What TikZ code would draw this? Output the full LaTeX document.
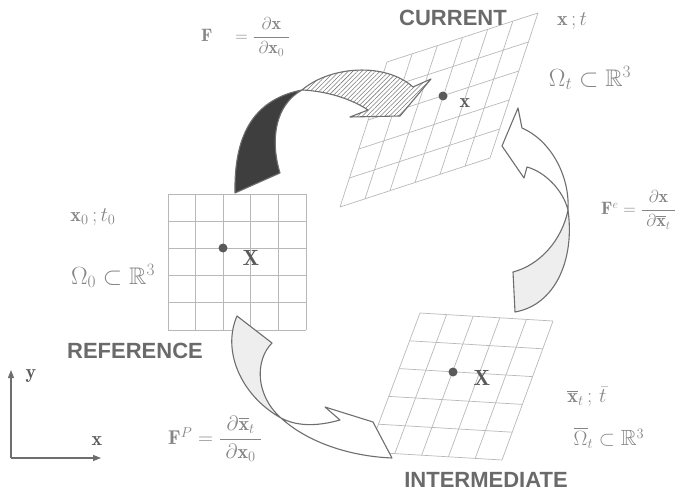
\documentclass[tikz,border=0pt]{standalone}
\usepackage{fontspec}
\usepackage{amsmath,amssymb}
\usetikzlibrary{patterns.meta,calc,arrows.meta}
\newfontfamily\lblfont{Liberation Sans}
\definecolor{gridc}{HTML}{B8B8B8}
\definecolor{linec}{HTML}{6E6E6E}
\definecolor{textc}{HTML}{6A6A6A}
\definecolor{mathc}{HTML}{858585}
\definecolor{darkc}{HTML}{3E3E3E}
\definecolor{dotc}{HTML}{5A5A5A}
\definecolor{lightc}{HTML}{EEEEEE}
\definecolor{hatchc}{HTML}{7A7A7A}
\begin{document}
\begin{tikzpicture}[x=1pt,y=-1pt,
  gridline/.style={draw=gridc,line width=0.7pt},
  ribbon/.style={draw=linec,line width=1.1pt,line join=round},
  ptdot/.style={circle,fill=dotc,inner sep=0pt,minimum size=9pt},
  stagelbl/.style={font=\lblfont\bfseries\fontsize{22}{24}\selectfont,text=textc,inner sep=0pt},
  mathlbl/.style={text=mathc,inner sep=0pt},
  ptlbl/.style={text=dotc,inner sep=0pt},
  axisline/.style={draw=linec,line width=1.2pt,-{Triangle[length=8pt,width=6pt]}}]
\useasboundingbox (0,0) rectangle (688,492);

% ---- grids ----
\coordinate (rTL) at (168,194); \coordinate (rTR) at (306,194);
\coordinate (rBL) at (168,330); \coordinate (rBR) at (306,330);
\coordinate (cTL) at (387,62);  \coordinate (cTR) at (538,13);
\coordinate (cBL) at (340,207); \coordinate (cBR) at (490,158);
\coordinate (iTL) at (420,313); \coordinate (iTR) at (553,321);
\coordinate (iBL) at (368,452); \coordinate (iBR) at (502,460);

\foreach \i in {0,...,5}{
  \draw[gridline] ($(rTL)!\i/5!(rTR)$) -- ($(rBL)!\i/5!(rBR)$);
  \draw[gridline] ($(rTL)!\i/5!(rBL)$) -- ($(rTR)!\i/5!(rBR)$);
  \draw[gridline] ($(iTL)!\i/5!(iTR)$) -- ($(iBL)!\i/5!(iBR)$);
  \draw[gridline] ($(iTL)!\i/5!(iBL)$) -- ($(iTR)!\i/5!(iBR)$);
  \draw[gridline] ($(cTL)!\i/5!(cBL)$) -- ($(cTR)!\i/5!(cBR)$);
}
\foreach \i in {0,...,6}{
  \draw[gridline] ($(cTL)!\i/6!(cTR)$) -- ($(cBL)!\i/6!(cBR)$);
}

% ---- material points ----
\node[ptdot] (rdot) at (223,248) {};
\node[ptdot] (cdot) at (443,96) {};
\node[ptdot] (idot) at (453,372) {};
\node[ptlbl,font=\fontsize{22}{24}\selectfont] (rX) at (251,258) {$\mathbf{X}$};
\node[ptlbl,font=\fontsize{20}{22}\selectfont] (cx) at (465,103) {$\mathbf{x}$};
\node[ptlbl,font=\fontsize{22}{24}\selectfont] (iX) at (482,378) {$\mathbf{X}$};

% ---- F arrow: dark back side + hatched front side ----
\draw[ribbon,fill=darkc] (235,193) .. controls (234,140) and (250,100) .. (302,90)
   .. controls (275,105) and (270,140) .. (280,173) -- cycle;
\draw[ribbon,preaction={fill=white},pattern={Lines[angle=45,distance=3.2pt,line width=0.55pt]},pattern color=hatchc]
   (302,90) .. controls (330,66) and (385,62) .. (413,87) -- (431,79) -- (400,116)
   -- (350,117) -- (368,110) .. controls (350,98) and (325,91) .. (302,90) -- cycle;

% ---- F^e arrow ----
\draw[ribbon,fill=lightc] (513,272) .. controls (540,265) and (562,240) .. (568,210)
   .. controls (575,260) and (555,305) .. (515,312) -- cycle;
\draw[ribbon,fill=white] (568,210) .. controls (570,175) and (550,140) .. (522,128)
   -- (518,108) -- (502,146) -- (524,178) -- (527,167)
   .. controls (545,172) and (563,190) .. (568,210) -- cycle;

% ---- F^p arrow ----
\draw[ribbon,fill=lightc] (237,316) -- (272,343) .. controls (255,360) and (255,395) .. (281,418)
   .. controls (240,395) and (222,350) .. (237,316) -- cycle;
\draw[ribbon,fill=white] (281,418) .. controls (305,440) and (345,456) .. (392,458)
   -- (373,422) -- (325,407) -- (340,420) .. controls (322,425) and (300,428) .. (281,418) -- cycle;

% ---- stage labels ----
\node[stagelbl] (cur) at (453,18) {CURRENT};
\node[stagelbl] (ref) at (135,351) {REFERENCE};
\node[stagelbl] (int) at (486,480) {INTERMEDIATE};

% ---- configuration labels ----
\node[mathlbl,font=\fontsize{20}{22}\selectfont] (xt) at (572,21) {$\mathbf{x}\,;t$};
\node[mathlbl,font=\fontsize{24}{26}\selectfont] (Omt) at (590,78) {$\Omega_t\subset\mathbb{R}^3$};
\node[mathlbl,font=\fontsize{20}{22}\selectfont] (x0t0) at (93,217) {$\mathbf{x}_0\,;t_0$};
\node[mathlbl,font=\fontsize{24}{26}\selectfont] (Om0) at (113,276) {$\Omega_0\subset\mathbb{R}^3$};
\node[mathlbl,font=\fontsize{20}{22}\selectfont] (xbt) at (587,397) {$\overline{\mathbf{x}}_t\,;\,\bar{t}$};
\node[mathlbl,font=\fontsize{22}{24}\selectfont] (Ombt) at (609,438) {$\overline{\Omega}_t\subset\mathbb{R}^3$};

% ---- gradients ----
\node[mathlbl,anchor=west,font=\fontsize{18}{20}\selectfont] (Ftop) at (201,37)
  {$\mathbf{F}\quad=\dfrac{\;\partial\mathbf{x}\;}{\;\partial\mathbf{x}_0\;}$};
\node[mathlbl,anchor=west,font=\fontsize{18}{20}\selectfont] (Fe) at (601,210)
  {$\mathbf{F}^e=\dfrac{\;\partial\mathbf{x}\;}{\;\partial\overline{\mathbf{x}}_t\;}$};
\node[mathlbl,anchor=west,font=\fontsize{20}{22}\selectfont] (Fp) at (168,439)
  {$\mathbf{F}^P=\dfrac{\;\partial\overline{\mathbf{x}}_t\;}{\;\partial\mathbf{x}_0\;}$};

% ---- axes ----
\coordinate (ax0) at (11,458);
\coordinate (axy) at (11,370);
\coordinate (axx) at (101,458);
\draw[axisline] (ax0) -- (axy);
\draw[axisline] (ax0) -- (axx);
\node[ptlbl,font=\fontsize{20}{22}\selectfont] (ylbl) at (31,376) {$\mathbf{y}$};
\node[ptlbl,font=\fontsize{20}{22}\selectfont] (xlbl) at (97,441) {$\mathbf{x}$};
\end{tikzpicture}
\end{document}
